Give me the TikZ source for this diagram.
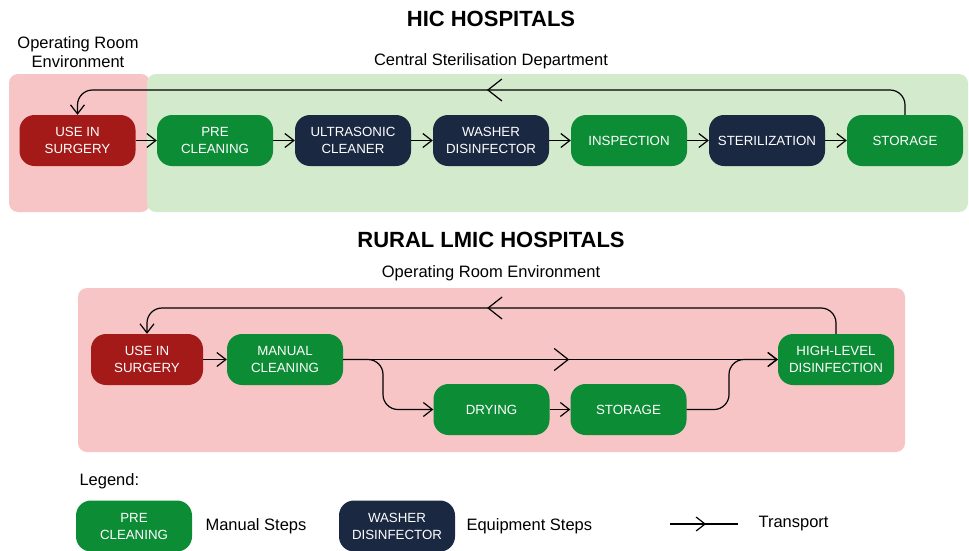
\documentclass[tikz,border=0pt]{standalone}
\usepackage{fontspec}
\setmainfont{Liberation Sans}
\usetikzlibrary{arrows.meta,decorations.markings}
\definecolor{mred}{RGB}{163,26,24}
\definecolor{mgreen}{RGB}{13,140,54}
\definecolor{mnavy}{RGB}{26,40,66}
\definecolor{mpink}{RGB}{247,197,198}
\definecolor{mlgreen}{RGB}{212,234,204}
\tikzset{
 stepbox/.style={rounded corners=15pt, minimum width=116pt, minimum height=51pt, text=white,
   font=\fontsize{13.3}{17}\selectfont, align=center, inner sep=0pt},
 manual/.style={stepbox, fill=mgreen},
 equip/.style={stepbox, fill=mnavy},
 surg/.style={stepbox, fill=mred},
 zone/.style={rounded corners=9pt},
 title/.style={font=\fontsize{22}{26}\selectfont\bfseries},
 lbl/.style={font=\fontsize{16.5}{19}\selectfont, align=center},
 flow/.style={draw=black, line width=1.2pt, -{Straight Barb[length=9pt,width=14pt]}},
 plain/.style={draw=black, line width=1.2pt},
 midtip/.style={postaction={decorate, decoration={markings,
   mark=at position #1 with {\arrow{Straight Barb[length=14pt,width=22pt]}}}}},
 smalltip/.style={postaction={decorate, decoration={markings,
   mark=at position #1 with {\arrow{Straight Barb[length=9pt,width=14pt]}}}}}
}
\begin{document}
\begin{tikzpicture}[x=1pt,y=-1pt]
\useasboundingbox (0,0) rectangle (969,550);
% ---------- HIC ----------
\node[title] (t1) at (491,19) {HIC HOSPITALS};
\node[lbl] (orlab) at (78,52.5) {Operating Room\\Environment};
\node[lbl] (csdlab) at (491,61) {Central Sterilisation Department};
\fill[zone, mpink] (9,74) rectangle (150,212);
\fill[zone, mlgreen] (147,74) rectangle (968,212);
\node[surg] (a1) at (77.5,140.5) {USE IN\\SURGERY};
\node[manual] (a2) at (215,140.5) {PRE\\CLEANING};
\node[equip] (a3) at (353,140.5) {ULTRASONIC\\CLEANER};
\node[equip] (a4) at (491,140.5) {WASHER\\DISINFECTOR};
\node[manual] (a5) at (629,140.5) {INSPECTION};
\node[equip] (a6) at (767,140.5) {STERILIZATION};
\node[manual] (a7) at (905,140.5) {STORAGE};
\draw[flow] (a1) -- (a2);
\draw[flow] (a2) -- (a3);
\draw[flow] (a3) -- (a4);
\draw[flow] (a4) -- (a5);
\draw[flow] (a5) -- (a6);
\draw[flow] (a6) -- (a7);
\draw[flow, midtip=0.505, rounded corners=15pt] (a7.north) -- (905,90) -- (77.5,90) -- (a1.north);
% ---------- LMIC ----------
\node[title] (t2) at (491,240) {RURAL LMIC HOSPITALS};
\node[lbl] (orlab2) at (491,273) {Operating Room Environment};
\fill[zone, mpink] (78,288) rectangle (905,452);
\node[surg, minimum width=112pt] (b1) at (147,359.5) {USE IN\\SURGERY};
\node[manual] (b2) at (285,359.5) {MANUAL\\CLEANING};
\node[manual] (b3) at (491.5,409.5) {DRYING};
\node[manual] (b4) at (628.5,409.5) {STORAGE};
\node[manual] (b5) at (836,359.5) {HIGH-LEVEL\\DISINFECTION};
\draw[flow] (b1) -- (b2);
\draw[flow, midtip=0.52] (b2) -- (b5);
\draw[flow, rounded corners=15pt] (b2.east) -- (383,359.5) -- (383,409.5) -- (b3.west);
\draw[flow] (b3) -- (b4);
\draw[flow, rounded corners=15pt] (b4.east) -- (729,409.5) -- (729,359.5) -- (b5.west);
\draw[flow, midtip=0.506, rounded corners=15pt] (b5.north) -- (836,308) -- (147,308) -- (b1.north);
% ---------- Legend ----------
\node[lbl, anchor=west] (leg) at (76,481) {Legend:};
\node[manual] (l1) at (134,526) {PRE\\CLEANING};
\node[lbl, anchor=west] (l1t) at (202,526) {Manual Steps};
\node[equip] (l2) at (397,526) {WASHER\\DISINFECTOR};
\node[lbl, anchor=west] (l2t) at (463,526) {Equipment Steps};
\coordinate (ts) at (670,524);
\coordinate (te) at (738,524);
\draw[plain, smalltip=0.53] (ts) -- (te);
\node[lbl, anchor=west] (l3t) at (755,524) {Transport};
\end{tikzpicture}
\end{document}
